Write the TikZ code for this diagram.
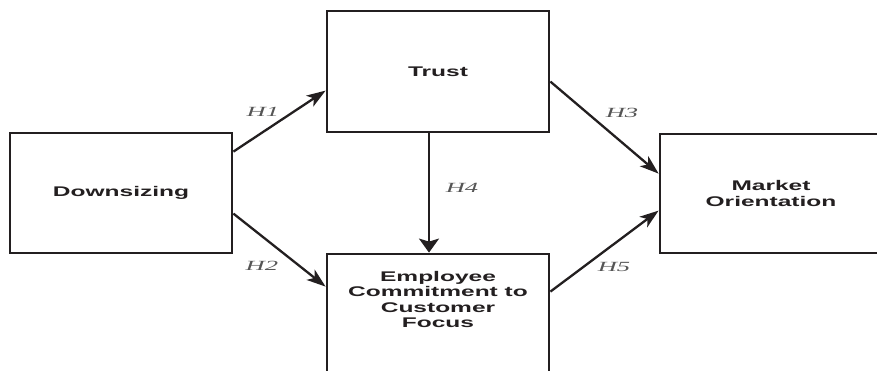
\documentclass[tikz,border=0pt]{standalone}
\usepackage{fontspec}
\setmainfont{Liberation Sans}
\newfontfamily\boxfont[FakeStretch=1.75]{Liberation Sans}
\newfontfamily\hfont[FakeStretch=1.9]{Liberation Serif}
\usetikzlibrary{arrows.meta,calc}
\definecolor{ink}{HTML}{231F20}
\definecolor{lab}{HTML}{555555}
\tikzset{
  box/.style={draw=ink, line width=2.8pt, fill=white, minimum width=222pt,
    align=center, text=ink, font=\boxfont\bfseries\fontsize{14}{15.3}\selectfont},
  arr/.style={draw=ink, line width=2.3pt,
    -{Stealth[length=19pt,width=13pt,inset=5pt]}},
  varr/.style={draw=ink, line width=2.3pt,
    -{Stealth[length=14pt,width=20pt,inset=3pt]}},
  hlab/.style={text=lab, font=\hfont\itshape\fontsize{14}{14}\selectfont}
}
\begin{document}
\begin{tikzpicture}[x=1pt,y=-1pt]
\useasboundingbox (0,0) rectangle (877,370);
\clip (0,0) rectangle (877,370);
\fill[white] (0,0) rectangle (877,370);
\node[box, minimum height=120pt] (ds) at (121,193) {Downsizing};
\node[box, minimum height=121pt] (tr) at (438,71.5) {Trust};
\node[box, minimum height=166pt,
  label={[name=emptext, anchor=center, yshift=-47pt, align=center, text=ink,
    font=\boxfont\bfseries\fontsize{14}{15.3}\selectfont]north:Employee\\Commitment to\\Customer\\Focus}]
  (emp) at (438,337) {};
\node[box, minimum height=119pt] (mo) at (771,193.5) {Market\\Orientation};
\draw[arr] ($(ds.north east)+(0,20)$) -- ($(tr.north west)+(0,81)$);
\draw[arr] ($(ds.north east)+(0,82)$) -- ($(emp.north west)+(0,34)$);
\draw[arr] ($(tr.north east)+(0,72)$) -- ($(mo.north west)+(0,41)$);
\draw[arr] ($(emp.north east)+(0,39)$) -- ($(mo.north west)+(0,78)$);
\draw[varr] ($(tr.south)+(-9,0)$) -- ($(emp.north)+(-9,0)$);
\node[hlab] (h1) at (263,112) {H1};
\node[hlab] (h2) at (262,266) {H2};
\node[hlab] (h3) at (622,113) {H3};
\node[hlab] (h4) at (462,188) {H4};
\node[hlab] (h5) at (614,267) {H5};
\end{tikzpicture}
\end{document}
